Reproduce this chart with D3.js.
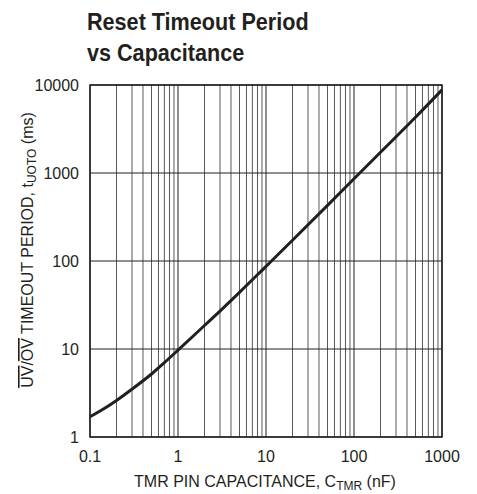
<!DOCTYPE html>
<html>
<head>
<meta charset="utf-8">
<script src="https://cdn.jsdelivr.net/npm/d3@7"></script>
<style>
body { margin: 0; background: #fff; }
text { font-family: "Liberation Sans", Arial, sans-serif; fill: #231f20; }
</style>
</head>
<body>
<svg id="chart" width="477" height="494"></svg>
<script>
// capacitance (nF) vs timeout (ms)
const capNF = [0.1, 0.15, 0.2, 0.3, 0.5, 0.7, 1, 2, 3, 5, 10, 20, 50, 100, 200, 500, 1000]
const timeoutMs = [1.7, 2.15, 2.6, 3.5, 5.2, 7.0, 9.7, 18.5, 27, 44, 87, 172, 428, 860, 1720, 4300, 8800]
const xTicks = [0.1, 1, 10, 100, 1000]
const yTicks = [1, 10, 100, 1000, 10000]

const svg = d3.select('#chart')
const pl = 90, pr = 442, pt = 85, pb = 437

const x = d3.scaleLog().domain([0.1, 1000]).range([pl, pr])
const y = d3.scaleLog().domain([1, 10000]).range([pb, pt])

// minor vertical grid
let minor = []
for (let d = 0.1; d < 1000; d *= 10) {
  for (let k = 2; k <= 9; k++) minor.push(+(d * k).toPrecision(3))
}
svg.append('g').selectAll('line').data(minor).enter().append('line')
  .attr('x1', d => x(d)).attr('x2', d => x(d))
  .attr('y1', pt).attr('y2', pb)
  .attr('stroke', '#58595b').attr('stroke-width', 1)

svg.append('g').selectAll('line').data(xTicks).enter().append('line')
  .attr('x1', d => x(d)).attr('x2', d => x(d))
  .attr('y1', pt).attr('y2', pb)
  .attr('stroke', '#231f20').attr('stroke-width', 1)

svg.append('g').selectAll('line').data(yTicks).enter().append('line')
  .attr('x1', pl).attr('x2', pr)
  .attr('y1', d => y(d)).attr('y2', d => y(d))
  .attr('stroke', '#231f20').attr('stroke-width', 1)

svg.append('rect')
  .attr('x', pl).attr('y', pt)
  .attr('width', pr - pl).attr('height', pb - pt)
  .attr('fill', 'none').attr('stroke', '#231f20').attr('stroke-width', 1.5)

// curve
let line = d3.line().x(d => x(d[0])).y(d => y(d[1])).curve(d3.curveMonotoneX)
svg.append('path')
  .datum(d3.zip(capNF, timeoutMs))
  .attr('d', line)
  .attr('fill', 'none').attr('stroke', '#231f20').attr('stroke-width', 3)

// tick labels
svg.append('g').selectAll('text').data(xTicks).enter().append('text')
  .attr('x', d => x(d)).attr('y', 462)
  .attr('text-anchor', 'middle').attr('font-size', 16)
  .text(d => d)

svg.append('g').selectAll('text').data(yTicks).enter().append('text')
  .attr('x', 79).attr('y', d => y(d) + 6)
  .attr('text-anchor', 'end').attr('font-size', 16)
  .text(d => d)

// title, squeezed to look like a condensed face
const title = svg.append('text')
  .attr('transform', 'translate(87,0) scale(0.9,1)')
  .attr('font-weight', 'bold').attr('font-size', 24)
title.append('tspan').attr('x', 0).attr('y', 30).text('Reset Timeout Period')
title.append('tspan').attr('x', 0).attr('y', 61).text('vs Capacitance')

// x axis label
const xl = svg.append('text')
  .attr('x', 265).attr('y', 487).attr('text-anchor', 'middle').attr('font-size', 16)
xl.append('tspan').text('TMR PIN CAPACITANCE, C')
xl.append('tspan').attr('font-size', 12).attr('dy', 3).text('TMR')
xl.append('tspan').attr('dy', -3).text(' (nF)')

// y axis label
const yl = svg.append('text')
  .attr('transform', 'translate(33,250) rotate(-90)')
  .attr('text-anchor', 'middle').attr('font-size', 16)
yl.append('tspan').attr('text-decoration', 'overline').text('UV')
yl.append('tspan').text('/')
yl.append('tspan').attr('text-decoration', 'overline').text('OV')
yl.append('tspan').text(' TIMEOUT PERIOD, t')
yl.append('tspan').attr('font-size', 12).attr('dy', 3).text('UOTO')
yl.append('tspan').attr('dy', -3).text(' (ms)')
</script>
</body>
</html>
